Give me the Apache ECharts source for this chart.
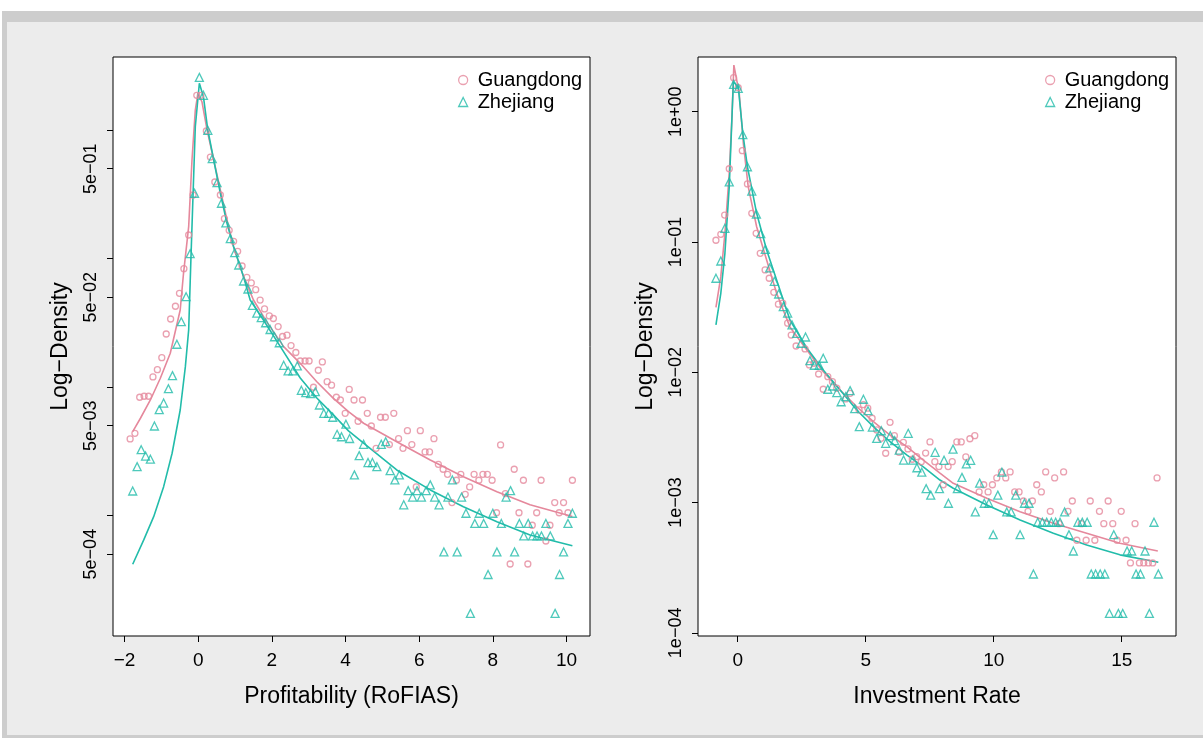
<!DOCTYPE html>
<html>
<head>
<meta charset="utf-8">
<title>Log-density of profitability and investment rate</title>
<script src="https://cdn.jsdelivr.net/npm/echarts@6/dist/echarts.min.js"></script>
<style>
  html, body { margin: 0; padding: 0; background: #ffffff; }
  #frame { position: absolute; left: 2px; top: 11px; width: 1201px; height: 727px; background: #cdcdcd; }
  #panel { position: absolute; left: 7px; top: 22px; width: 1196px; height: 713px; background: #ececec; }
  #chart { position: absolute; left: 0; top: 0; width: 1203px; height: 738px; }
</style>
</head>
<body>
<div id="frame"></div>
<div id="panel"></div>
<div id="chart"></div>
<script>
// ---- Profitability (RoFIAS): binned log-density, Guangdong ----
const profitGdX = [-1.85,-1.72,-1.59,-1.47,-1.35,-1.23,-1.11,-0.99,-0.87,-0.75,
  -0.62,-0.51,-0.39,-0.26,-0.14,-0.04,0.07,0.22,0.33,0.45,
  0.60,0.71,0.84,0.96,1.07,1.19,1.32,1.44,1.56,1.68,
  1.80,1.93,2.04,2.17,2.29,2.41,2.52,2.65,2.77,2.90,
  3.01,3.13,3.26,3.37,3.50,3.62,3.75,3.86,3.99,4.10,
  4.23,4.34,4.46,4.59,4.70,4.83,4.95,5.08,5.19,5.31,
  5.44,5.56,5.68,5.80,5.92,6.03,6.16,6.28,6.40,6.52,
  6.65,6.77,6.89,7.01,7.13,7.25,7.37,7.49,7.62,7.73,
  7.85,7.98,8.10,8.21,8.34,8.47,8.58,8.71,8.83,8.95,
  9.07,9.19,9.31,9.44,9.55,9.68,9.80,9.92,10.04,10.16];
const profitGdY = [0.00394,0.00436,0.00832,0.00847,0.00847,0.01197,0.01364,0.0169,0.02585,0.0338,
  0.0425,0.0536,0.0833,0.1524,0.312,1.862,1.862,0.982,0.616,0.394,
  0.312,0.204,0.1657,0.136,0.1138,0.0874,0.0714,0.0645,0.0572,0.0475,
  0.0405,0.0357,0.0341,0.0295,0.0247,0.0253,0.021,0.01855,0.01593,0.01593,
  0.01593,0.00995,0.01349,0.01566,0.011,0.01033,0.00832,0.00792,0.00624,0.00957,
  0.00792,0.00541,0.00792,0.00624,0.00497,0.00333,0.00581,0.00581,0.00356,0.00624,
  0.00396,0.00333,0.00457,0.00356,0.001667,0.00457,0.00312,0.00312,0.00396,0.0025,
  0.00229,0.00209,0.00126,0.00188,0.00209,0.00146,0.001667,0.00209,0.00188,0.00209,
  0.00209,0.00188,0.00105,0.00354,0.00148,0.000419,0.00229,0.00105,0.00188,0.000419,
  0.000839,0.00105,0.00188,0.000633,0.000839,0.00126,0.00105,0.00126,0.00105,0.00188];

// ---- Profitability (RoFIAS): binned log-density, Zhejiang ----
const profitZjX = [-1.78,-1.66,-1.55,-1.43,-1.30,-1.19,-1.06,-0.94,-0.81,-0.70,
  -0.58,-0.46,-0.33,-0.22,-0.10,0.03,0.14,0.26,0.38,0.51,
  0.63,0.75,0.87,0.99,1.10,1.23,1.35,1.47,1.59,1.71,
  1.83,1.95,2.07,2.20,2.32,2.44,2.57,2.69,2.80,2.92,
  3.05,3.18,3.29,3.41,3.54,3.65,3.77,3.89,4.01,4.11,
  4.24,4.37,4.49,4.61,4.73,4.85,4.97,5.09,5.21,5.34,
  5.46,5.58,5.70,5.82,5.94,6.06,6.19,6.30,6.42,6.54,
  6.67,6.78,6.90,7.03,7.15,7.27,7.39,7.51,7.63,7.75,
  7.87,8.00,8.11,8.23,8.36,8.48,8.59,8.72,8.84,8.96,
  9.08,9.20,9.32,9.44,9.56,9.69,9.81,9.92,10.04,10.16];
const profitZjY = [0.00155,0.0024,0.00325,0.0029,0.00274,0.00497,0.00666,0.0075,0.0097,0.01225,
  0.0215,0.0322,0.0504,0.109,0.322,2.57,1.862,0.995,0.598,0.389,
  0.269,0.189,0.1426,0.111,0.089,0.0668,0.0579,0.0431,0.0375,0.0346,
  0.0316,0.028,0.0246,0.0221,0.01475,0.01333,0.01333,0.01457,0.00942,0.00903,
  0.00887,0.00919,0.00724,0.00624,0.00624,0.00581,0.00428,0.0041,0.00513,0.00397,
  0.00207,0.00292,0.00358,0.00258,0.00258,0.0024,0.00358,0.00375,0.00223,0.00189,
  0.00207,0.00121,0.00156,0.00139,0.00156,0.00139,0.00156,0.00173,0.00139,0.00121,
  0.00052,0.00139,0.00189,0.00052,0.00139,0.00104,0.000173,0.000867,0.00104,0.000867,
  0.000347,0.00104,0.00052,0.000867,0.00139,0.00156,0.00052,0.000867,0.000693,0.000867,
  0.000693,0.000693,0.000693,0.000867,0.000693,0.000173,0.000347,0.00052,0.000867,0.00104];

// ---- Profitability: fitted density curves ----
const profitGdFitX = [-1.78,-1.57,-1.30,-1.03,-0.76,-0.49,-0.40,-0.26,-0.17,-0.08,
  -0.01,0.10,0.24,0.42,0.60,0.78,0.96,1.23,1.50,1.86,
  2.32,2.77,3.22,3.67,4.08,4.49,5.39,6.30,7.20,8.11,9.01,10.16];
const profitGdFitY = [0.00449,0.00571,0.00792,0.01169,0.01829,0.0397,0.0767,0.1768,0.584,1.431,
  1.931,1.66,1.0,0.584,0.341,0.1994,0.1236,0.0722,0.0475,0.0321,
  0.0206,0.01528,0.01099,0.00816,0.00643,0.00522,0.00375,0.0027,0.002,0.00153,0.00121,0.00098];
const profitZjFitX = [-1.78,-1.48,-1.21,-0.94,-0.71,-0.49,-0.35,-0.26,-0.20,-0.14,
  -0.08,0.03,0.14,0.26,0.42,0.60,0.78,0.96,1.23,1.41,
  1.77,2.23,2.77,3.22,3.67,4.08,4.49,5.39,6.30,7.20,8.11,9.01,10.16];
const profitZjFitY = [0.000417,0.000645,0.000979,0.001675,0.00305,0.00662,0.01439,0.0278,0.0973,0.322,
  1.061,2.31,1.816,1.0,0.584,0.322,0.188,0.1236,0.0722,0.0475,
  0.0332,0.0206,0.01175,0.00821,0.00606,0.00455,0.00365,0.00226,0.00158,0.00117,0.000895,0.000705,0.000582];

// ---- Investment rate: binned log-density, Guangdong ----
const investGdX = [-0.85,-0.66,-0.51,-0.33,-0.16,0.02,0.18,0.38,0.55,0.72,
  0.88,1.07,1.23,1.41,1.59,1.76,1.95,2.09,2.28,2.63,
  2.80,2.98,3.16,3.34,3.52,3.70,3.87,4.22,4.39,4.74,
  4.91,5.08,5.25,5.43,5.60,5.78,5.95,6.12,6.30,6.47,
  6.65,6.82,6.99,7.17,7.34,7.51,7.70,7.86,8.03,8.22,
  8.38,8.56,8.73,8.91,9.07,9.26,9.43,9.61,9.78,9.95,
  10.12,10.30,10.47,10.64,10.82,10.99,11.16,11.34,11.51,11.68,
  11.86,12.03,12.21,12.38,12.55,12.73,12.90,13.07,13.25,13.42,
  13.61,13.77,13.95,14.13,14.30,14.47,14.65,14.82,14.98,15.17,
  15.34,15.52,15.69,15.86,16.04,16.21,16.38];
const investGdY = [0.1031,0.1146,0.161,0.365,1.824,1.528,0.502,0.279,0.166,0.1166,
  0.0819,0.061,0.0527,0.0411,0.0333,0.0339,0.0238,0.0193,0.01592,0.0151,
  0.01138,0.01173,0.0097,0.00741,0.00925,0.00847,0.00754,0.00624,0.0069,0.00514,
  0.00564,0.0053,0.00444,0.00361,0.00311,0.00239,0.00413,0.00326,0.00243,0.0029,
  0.00258,0.00215,0.00225,0.00206,0.0024,0.00292,0.00206,0.00189,0.00137,0.00189,
  0.00206,0.00292,0.00292,0.00224,0.00309,0.00326,0.001206,0.00137,0.001206,0.00137,
  0.001545,0.001718,0.001545,0.001718,0.001206,0.001206,0.001028,0.000857,0.001028,0.00137,
  0.001206,0.001718,0.000857,0.001545,0.000689,0.001718,0.000857,0.001028,0.000514,0.000689,
  0.000514,0.001028,0.000514,0.000857,0.000689,0.001028,0.000689,0.000514,0.000857,0.000514,
  0.000344,0.000689,0.000344,0.000344,0.000344,0.000344,0.001545];

// ---- Investment rate: binned log-density, Zhejiang ----
const investZjX = [-0.85,-0.66,-0.50,-0.33,-0.16,0.02,0.20,0.38,0.55,0.73,
  0.90,1.08,1.25,1.43,1.60,1.78,1.95,2.12,2.30,2.47,
  2.65,2.82,2.99,3.18,3.34,3.52,3.70,3.87,4.04,4.22,
  4.39,4.57,4.75,4.91,5.09,5.26,5.43,5.61,5.78,5.96,
  6.13,6.31,6.48,6.66,6.84,7.00,7.19,7.36,7.54,7.71,
  7.88,8.06,8.23,8.41,8.58,8.76,8.93,9.10,9.28,9.45,
  9.63,9.81,9.98,10.16,10.32,10.51,10.68,10.86,11.03,11.20,
  11.38,11.55,11.72,11.90,12.07,12.25,12.42,12.59,12.77,12.94,
  13.11,13.29,13.46,13.65,13.81,13.98,14.16,14.34,14.52,14.69,
  14.87,15.04,15.21,15.39,15.56,15.73,15.91,16.08,16.26,16.43];
const investZjY = [0.0527,0.0715,0.1274,0.289,1.622,1.512,0.666,0.378,0.246,0.164,
  0.1159,0.0879,0.0632,0.0499,0.0399,0.0319,0.0285,0.0231,0.0199,0.0167,
  0.01866,0.01228,0.01132,0.01132,0.01281,0.00741,0.00785,0.00697,0.00594,0.0065,
  0.00723,0.00526,0.00383,0.00621,0.00507,0.0038,0.00311,0.00356,0.00285,0.00326,
  0.00299,0.00253,0.00212,0.0034,0.00212,0.00185,0.00171,0.00128,0.00114,0.00243,
  0.00128,0.00211,0.000988,0.00257,0.00128,0.00156,0.00198,0.00211,0.000847,0.00141,
  0.000988,0.000988,0.000567,0.00114,0.00171,0.000847,0.000847,0.00114,0.000567,0.000988,
  0.000988,0.000283,0.000706,0.000706,0.000706,0.000706,0.000706,0.000706,0.000847,0.000567,
  0.000425,0.000706,0.000706,0.000706,0.000283,0.000283,0.000283,0.000283,0.000141,0.000567,
  0.000141,0.000141,0.000425,0.000425,0.000283,0.000283,0.000425,0.000141,0.000706,0.000283];

// ---- Investment rate: fitted density curves ----
const investGdFitX = [-0.85,-0.66,-0.50,-0.33,-0.23,-0.15,0.06,0.22,0.41,0.74,
  1.13,1.52,2.04,2.70,3.34,4.00,4.65,5.30,5.95,6.60,
  7.25,7.90,8.42,9.73,11.03,12.33,13.63,14.93,16.41];
const investGdFitY = [0.0315,0.0542,0.1167,0.337,0.863,2.28,1.384,0.572,0.266,0.131,
  0.0728,0.0404,0.0223,0.01483,0.01011,0.00731,0.00544,0.00418,0.0033,0.00269,
  0.00212,0.00168,0.001406,0.001079,0.000851,0.000693,0.000581,0.000487,0.000425];
const investZjFitX = [-0.85,-0.66,-0.50,-0.33,-0.17,0.02,0.20,0.38,0.74,1.13,
  1.52,2.04,2.70,3.34,4.00,4.65,5.30,5.95,6.60,7.25,
  7.90,8.42,9.73,11.03,12.33,13.63,14.93,16.43];
const investZjFitY = [0.0231,0.0404,0.0819,0.266,1.70,1.556,0.683,0.378,0.166,0.0868,
  0.0511,0.0252,0.01537,0.01042,0.00731,0.00514,0.00383,0.00293,0.00232,0.00188,
  0.00149,0.001288,0.000959,0.000735,0.000581,0.000473,0.000397,0.000348];

// ---- Axis ranges and tick positions ----
const profitXRange = [-2.315, 10.638];
const profitYRange = [1.153e-4, 3.70];
const investXRange = [-1.551, 17.12];
const investYRange = [9.46e-5, 2.63];
const profitXTicks = [-2, 0, 2, 4, 6, 8, 10];
const investXTicks = [0, 5, 10, 15];
const profitYTicks = [5e-4, 1e-3, 5e-3, 1e-2, 5e-2, 1e-1, 5e-1, 1];
const profitYLabels = [5e-4, 5e-3, 5e-2, 5e-1];
const investYTicks = [1e-4, 1e-3, 1e-2, 1e-1, 1];
const investYLabels = [1e-4, 1e-3, 1e-2, 1e-1, 1];

const FONT = '"Liberation Sans", Arial, Helvetica, sans-serif';
const PINK = '#e5889c';
const TEAL = '#22bcaa';

function pairs(xs, ys) { return xs.map((x, i) => [x, ys[i]]); }

// R-style scientific labels, e.g. 5e-04, 1e+00
function sciLabel(v) {
  const e = Math.floor(Math.log10(v) + 1e-9);
  const m = Math.round(v / Math.pow(10, e));
  return m + 'e' + (e < 0 ? '\u2212' : '+') + String(Math.abs(e)).padStart(2, '0');
}
function signedLabel(v) { return v < 0 ? '\u2212' + Math.abs(v) : String(v); }

const tickStyle = { color: '#000', width: 1 };

function xAxisCfg(idx, name, range, ticks) {
  return {
    type: 'value', gridIndex: idx, min: range[0], max: range[1],
    name: name, nameLocation: 'middle', nameGap: 49,
    nameTextStyle: { fontFamily: FONT, fontSize: 23, color: '#000' },
    axisLine: { show: false, onZero: false }, splitLine: { show: false },
    axisTick: { show: true, length: 6, customValues: ticks, lineStyle: tickStyle },
    axisLabel: { customValues: ticks, formatter: signedLabel, margin: 15,
      fontFamily: FONT, fontSize: 19, color: '#000' }
  };
}
function yAxisCfg(idx, range, ticks, labels) {
  return {
    type: 'log', logBase: 10, gridIndex: idx, min: range[0], max: range[1],
    name: 'Log\u2212Density', nameLocation: 'middle', nameGap: 41, nameRotate: 90,
    nameTextStyle: { fontFamily: FONT, fontSize: 23, color: '#000' },
    axisLine: { show: false, onZero: false }, splitLine: { show: false }, minorTick: { show: false },
    axisTick: { show: true, length: 6, customValues: ticks, lineStyle: tickStyle },
    axisLabel: { customValues: labels, formatter: sciLabel, rotate: 90, margin: 13,
      fontFamily: FONT, fontSize: 18, color: '#000' }
  };
}

function pointSeries(name, idx, xs, ys, color, symbol, size) {
  return {
    type: 'scatter', name: name, xAxisIndex: idx, yAxisIndex: idx,
    data: pairs(xs, ys), symbol: symbol, symbolSize: size, silent: true, z: 3,
    itemStyle: { color: 'rgba(0,0,0,0)', borderColor: color, borderWidth: 1.3 }
  };
}
function fitSeries(name, idx, xs, ys, color) {
  return {
    type: 'line', name: name, xAxisIndex: idx, yAxisIndex: idx,
    data: pairs(xs, ys), showSymbol: false, symbol: 'none', silent: true, z: 2,
    lineStyle: { color: color, width: 1.6 }
  };
}
function legendCfg(left) {
  return {
    left: left, top: 65, orient: 'vertical', itemWidth: 9, itemHeight: 9, itemGap: 2,
    selectedMode: false,
    textStyle: { fontFamily: FONT, fontSize: 20, color: '#000', lineHeight: 20, padding: [0, 0, 0, 5] },
    data: [
      { name: 'Guangdong', icon: 'circle',
        itemStyle: { color: 'rgba(0,0,0,0)', borderColor: PINK, borderWidth: 1.3 } },
      { name: 'Zhejiang', icon: 'triangle',
        itemStyle: { color: 'rgba(0,0,0,0)', borderColor: TEAL, borderWidth: 1.3 } }
    ]
  };
}

const gridBase = { show: true, backgroundColor: '#ffffff', borderColor: '#000', borderWidth: 1, containLabel: false };

const option = {
  animation: false,
  backgroundColor: 'transparent',
  textStyle: { fontFamily: FONT },
  grid: [
    Object.assign({ left: 113, top: 57, width: 477, height: 579 }, gridBase),
    Object.assign({ left: 698, top: 57, width: 478, height: 579 }, gridBase)
  ],
  xAxis: [
    xAxisCfg(0, 'Profitability (RoFIAS)', profitXRange, profitXTicks),
    xAxisCfg(1, 'Investment Rate', investXRange, investXTicks)
  ],
  yAxis: [
    yAxisCfg(0, profitYRange, profitYTicks, profitYLabels),
    yAxisCfg(1, investYRange, investYTicks, investYLabels)
  ],
  legend: [legendCfg(453), legendCfg(1040)],
  series: [
    fitSeries('Guangdong fit', 0, profitGdFitX, profitGdFitY, PINK),
    fitSeries('Zhejiang fit', 0, profitZjFitX, profitZjFitY, TEAL),
    pointSeries('Guangdong', 0, profitGdX, profitGdY, PINK, 'circle', 6),
    pointSeries('Zhejiang', 0, profitZjX, profitZjY, TEAL, 'triangle', 8),
    fitSeries('Guangdong fit', 1, investGdFitX, investGdFitY, PINK),
    fitSeries('Zhejiang fit', 1, investZjFitX, investZjFitY, TEAL),
    pointSeries('Guangdong', 1, investGdX, investGdY, PINK, 'circle', 6),
    pointSeries('Zhejiang', 1, investZjX, investZjY, TEAL, 'triangle', 8)
  ]
};

const chart = echarts.init(document.getElementById('chart'), null, { renderer: 'canvas' });
chart.setOption(option);
</script>
</body>
</html>
